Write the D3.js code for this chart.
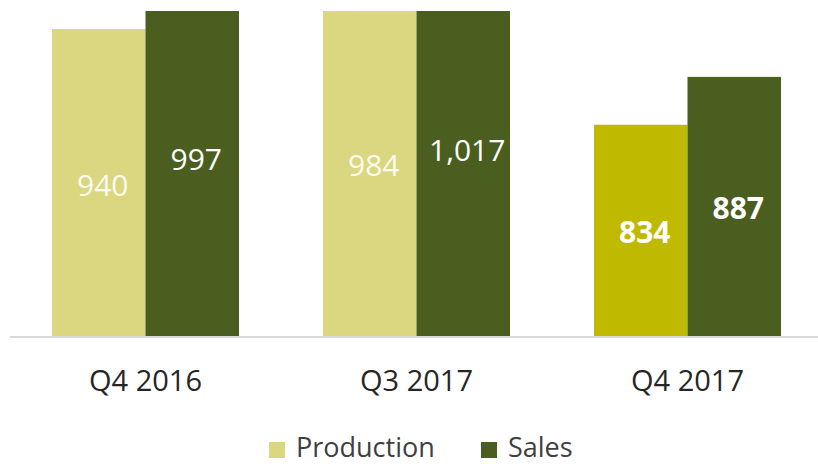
<!DOCTYPE html>
<html>
<head>
<meta charset="utf-8">
<script src="https://cdn.jsdelivr.net/npm/d3@7"></script>
<style>
  body { margin: 0; background: #fff; }
  text { font-family: "Open Sans", sans-serif; }
</style>
</head>
<body>
<svg width="818" height="466"></svg>
<script>
var categories = ["Q4 2016", "Q3 2017", "Q4 2017"];
var production = [940, 984, 834];
var sales = [997, 1017, 887];
var seriesNames = ["Production", "Sales"];

var svgWidth = 818;
var svgHeight = 466;
var baseY = 336;
var topY = 11;

var prodColor = "#dbd680";
var prodHighlight = "#bfb900";
var salesColor = "#4a5e1f";

var svg = d3.select("svg");

var x = d3.scaleBand()
    .domain(categories)
    .range([10, 823])
    .paddingInner(0.31)
    .paddingOuter(0.155);

var x1 = d3.scaleBand()
    .domain(seriesNames)
    .range([0, x.bandwidth()]);

var y = d3.scaleLinear()
    .domain([600, 960])
    .range([baseY, topY]);

svg.append("clipPath")
    .attr("id", "plot")
  .append("rect")
    .attr("x", 0)
    .attr("y", topY)
    .attr("width", svgWidth)
    .attr("height", baseY - topY);

var rows = categories.map(function (c, i) {
  return [
    { cat: c, name: "Production", value: production[i], highlight: i == 2 },
    { cat: c, name: "Sales", value: sales[i], highlight: i == 2 }
  ];
});
var bars = [].concat.apply([], rows);

svg.append("g")
    .attr("clip-path", "url(#plot)")
  .selectAll("rect")
  .data(bars)
  .enter()
  .append("rect")
    .attr("x", function (d) { return x(d.cat) + x1(d.name); })
    .attr("y", function (d) { return y(d.value); })
    .attr("width", x1.bandwidth())
    .attr("height", function (d) { return baseY - y(d.value); })
    .attr("fill", function (d) {
      if (d.name == "Sales") return salesColor;
      return d.highlight ? prodHighlight : prodColor;
    });

// baseline
svg.append("line")
    .attr("x1", 10)
    .attr("x2", svgWidth)
    .attr("y1", baseY + 1)
    .attr("y2", baseY + 1)
    .attr("stroke", "#d9d9d9")
    .attr("stroke-width", 2);

// value labels, centred on the full (unclipped) bar
svg.append("g")
  .selectAll("text")
  .data(bars)
  .enter()
  .append("text")
    .attr("x", function (d) { return x(d.cat) + x1(d.name) + x1.bandwidth() / 2 + 4; })
    .attr("y", function (d) { return (y(d.value) + baseY) / 2 + 13; })
    .attr("text-anchor", "middle")
    .attr("font-size", 30)
    .attr("font-weight", function (d) { return d.highlight ? "bold" : "normal"; })
    .attr("fill", function (d) { return d.name == "Production" && !d.highlight ? "#fbfbef" : "#ffffff"; })
    .text(function (d) { return d3.format(",")(d.value); });

// category axis
var xAxis = d3.axisBottom(x).tickSize(0).tickPadding(0);
var ax = svg.append("g")
    .attr("transform", "translate(0," + 391 + ")")
    .call(xAxis);
ax.select(".domain").remove();
ax.selectAll("text")
    .attr("dy", 0)
    .attr("y", 0)
    .attr("font-size", 29)
    .attr("font-family", "Open Sans, sans-serif")
    .attr("fill", "#262626");

// legend
var legend = svg.append("g");
var legendX = [269, 481];
var legendColors = [prodColor, salesColor];
seriesNames.forEach(function (name, i) {
  legend.append("rect")
      .attr("x", legendX[i])
      .attr("y", 442)
      .attr("width", 16)
      .attr("height", 16)
      .attr("fill", legendColors[i]);
  legend.append("text")
      .attr("x", legendX[i] + 27)
      .attr("y", 457)
      .attr("font-size", 27)
      .attr("fill", "#404040")
      .text(name);
});
</script>
</body>
</html>
